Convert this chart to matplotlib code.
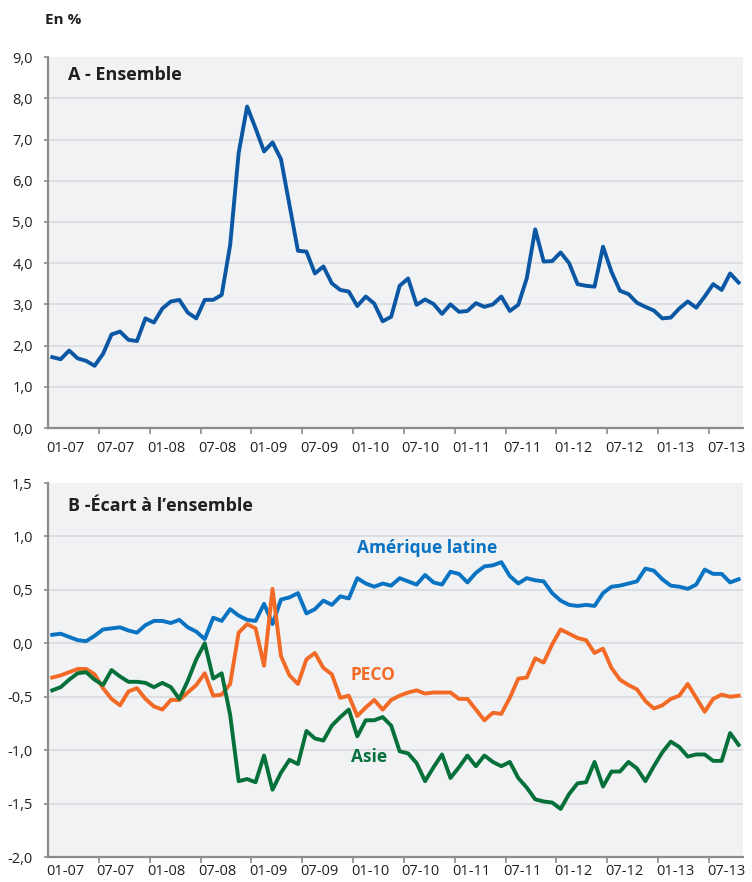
import matplotlib
matplotlib.use("Agg")
import matplotlib.pyplot as plt
from matplotlib.ticker import FuncFormatter, FixedLocator
import numpy as np

plt.rcParams['font.family'] = ['Open Sans', 'DejaVu Sans']

# monthly, 01-2007 .. 10-2013
tick_labels = ['01-07', '07-07', '01-08', '07-08', '01-09', '07-09', '01-10',
               '07-10', '01-11', '07-11', '01-12', '07-12', '01-13', '07-13']

ensemble = [1.72, 1.67, 1.88, 1.69, 1.63, 1.51, 1.80, 2.27, 2.34, 2.14,
            2.11, 2.66, 2.56, 2.90, 3.07, 3.11, 2.80, 2.66, 3.11, 3.11,
            3.23, 4.44, 6.67, 7.80, 7.27, 6.71, 6.93, 6.52, 5.41, 4.30,
            4.28, 3.75, 3.92, 3.51, 3.35, 3.31, 2.96, 3.19, 3.02, 2.59,
            2.70, 3.45, 3.63, 2.99, 3.12, 3.01, 2.77, 3.00, 2.82, 2.84,
            3.03, 2.94, 3.00, 3.19, 2.84, 2.99, 3.63, 4.82, 4.04, 4.05,
            4.26, 4.00, 3.49, 3.45, 3.43, 4.40, 3.79, 3.33, 3.25, 3.04,
            2.94, 2.85, 2.66, 2.68, 2.90, 3.07, 2.92, 3.19, 3.49, 3.35,
            3.75, 3.53]

amerique = [0.08, 0.09, 0.06, 0.03, 0.02, 0.07, 0.13, 0.14, 0.15, 0.12,
            0.10, 0.17, 0.21, 0.21, 0.19, 0.22, 0.15, 0.11, 0.04, 0.24,
            0.21, 0.32, 0.26, 0.22, 0.21, 0.37, 0.18, 0.41, 0.43, 0.47,
            0.28, 0.32, 0.40, 0.36, 0.44, 0.42, 0.61, 0.56, 0.53, 0.56,
            0.54, 0.61, 0.58, 0.55, 0.64, 0.57, 0.55, 0.67, 0.65, 0.57,
            0.66, 0.72, 0.73, 0.76, 0.63, 0.56, 0.61, 0.59, 0.58, 0.47,
            0.40, 0.36, 0.35, 0.36, 0.35, 0.47, 0.53, 0.54, 0.56, 0.58,
            0.70, 0.68, 0.60, 0.54, 0.53, 0.51, 0.55, 0.69, 0.65, 0.65,
            0.57, 0.60]

peco = [-0.32, -0.30, -0.27, -0.24, -0.24, -0.29, -0.42, -0.52, -0.58, -0.45,
        -0.42, -0.52, -0.59, -0.62, -0.53, -0.53, -0.46, -0.39, -0.28, -0.49,
        -0.48, -0.38, 0.10, 0.18, 0.14, -0.21, 0.51, -0.12, -0.30, -0.38,
        -0.15, -0.09, -0.23, -0.29, -0.51, -0.49, -0.68, -0.60, -0.53, -0.62,
        -0.53, -0.49, -0.46, -0.44, -0.47, -0.46, -0.46, -0.46, -0.52, -0.52,
        -0.62, -0.72, -0.65, -0.66, -0.51, -0.33, -0.32, -0.14, -0.18, -0.01,
        0.13, 0.09, 0.05, 0.03, -0.09, -0.05, -0.23, -0.34, -0.39, -0.43,
        -0.54, -0.61, -0.58, -0.52, -0.49, -0.38, -0.51, -0.64, -0.52, -0.48,
        -0.50, -0.49]

asie = [-0.44, -0.41, -0.34, -0.28, -0.27, -0.34, -0.39, -0.25, -0.31, -0.36,
        -0.36, -0.37, -0.41, -0.37, -0.41, -0.52, -0.35, -0.15, 0.00, -0.33,
        -0.28, -0.67, -1.29, -1.27, -1.30, -1.05, -1.37, -1.21, -1.09, -1.13,
        -0.82, -0.89, -0.91, -0.77, -0.69, -0.62, -0.87, -0.72, -0.72, -0.69,
        -0.77, -1.01, -1.03, -1.12, -1.29, -1.16, -1.04, -1.26, -1.16, -1.05,
        -1.15, -1.05, -1.11, -1.15, -1.11, -1.26, -1.35, -1.46, -1.48, -1.49,
        -1.55, -1.41, -1.31, -1.30, -1.11, -1.34, -1.20, -1.20, -1.11, -1.17,
        -1.29, -1.15, -1.02, -0.92, -0.97, -1.06, -1.04, -1.04, -1.10, -1.10,
        -0.84, -0.95]

BG = '#F0F2F4'
GRID = '#DADCDF'
SPINE = '#8C8C8C'
TXT = '#231F20'


def fr(v, pos=None):
    return ('%.1f' % v).replace('.', ',')


def style(ax, ymin, ymax, step, xpad):
    x = np.arange(len(ensemble))
    ax.set_facecolor(BG)
    ax.set_xlim(-0.5, len(x) - 0.5)
    ax.set_ylim(ymin, ymax)
    yt = np.arange(ymin, ymax + step / 2, step)
    ax.set_yticks(yt)
    ax.yaxis.set_major_formatter(FuncFormatter(fr))
    for v in yt[1:-1]:
        ax.axhline(v, color=GRID, lw=1.3, zorder=1)
    for s in ['top', 'right']:
        ax.spines[s].set_visible(False)
    for s in ['left', 'bottom']:
        ax.spines[s].set_color(SPINE)
        ax.spines[s].set_linewidth(1.6)
    ax.xaxis.set_major_locator(FixedLocator([6 * k + 1.5 for k in range(len(tick_labels))]))
    ax.set_xticklabels(tick_labels)
    ax.xaxis.set_minor_locator(FixedLocator([6 * k - 0.5 for k in range(1, 14)]))
    ax.tick_params(axis='x', which='major', length=0, pad=xpad, labelsize=10.5, colors=TXT)
    ax.tick_params(axis='x', which='minor', length=4, width=1.2, color=SPINE)
    ax.tick_params(axis='y', length=3, width=1.2, color=SPINE, pad=8,
                   labelsize=10.5, labelcolor=TXT)
    return x


fig = plt.figure(figsize=(7.52, 8.82), dpi=100)
axA = fig.add_axes([0.0638, 0.5147, 0.924, 0.4206])
axB = fig.add_axes([0.0638, 0.0283, 0.924, 0.4240])

x = style(axA, 0, 9, 1, 9)
axA.plot(x, ensemble, color='#0B57A4', lw=2.8, zorder=3)
axA.text(0.029, 0.951, 'A - Ensemble', transform=axA.transAxes, fontsize=13,
         fontweight='bold', color=TXT, va='center', ha='left')

x = style(axB, -2, 1.5, 0.5, 5)
axB.plot(x, amerique, color='#0A73C2', lw=2.8, zorder=3)
axB.plot(x, peco, color='#F26A25', lw=2.8, zorder=3)
axB.plot(x, asie, color='#06703A', lw=2.8, zorder=3)
axB.text(0.029, 0.938, 'B -Écart à l’ensemble', transform=axB.transAxes, fontsize=13,
         fontweight='bold', color=TXT, va='center', ha='left')
axB.text(44.2, 0.89, 'Amérique latine', color='#0A73C2', fontsize=12.5,
         fontweight='bold', ha='center', va='center')
axB.text(37.8, -0.30, 'PECO', color='#F26A25', fontsize=12.5,
         fontweight='bold', ha='center', va='center')
axB.text(37.4, -1.06, 'Asie', color='#06703A', fontsize=12.5,
         fontweight='bold', ha='center', va='center')

fig.text(0.06, 0.977, 'En %', fontsize=11, fontweight='bold', color=TXT,
         ha='left', va='center')

fig.savefig('out.png', dpi=100)
